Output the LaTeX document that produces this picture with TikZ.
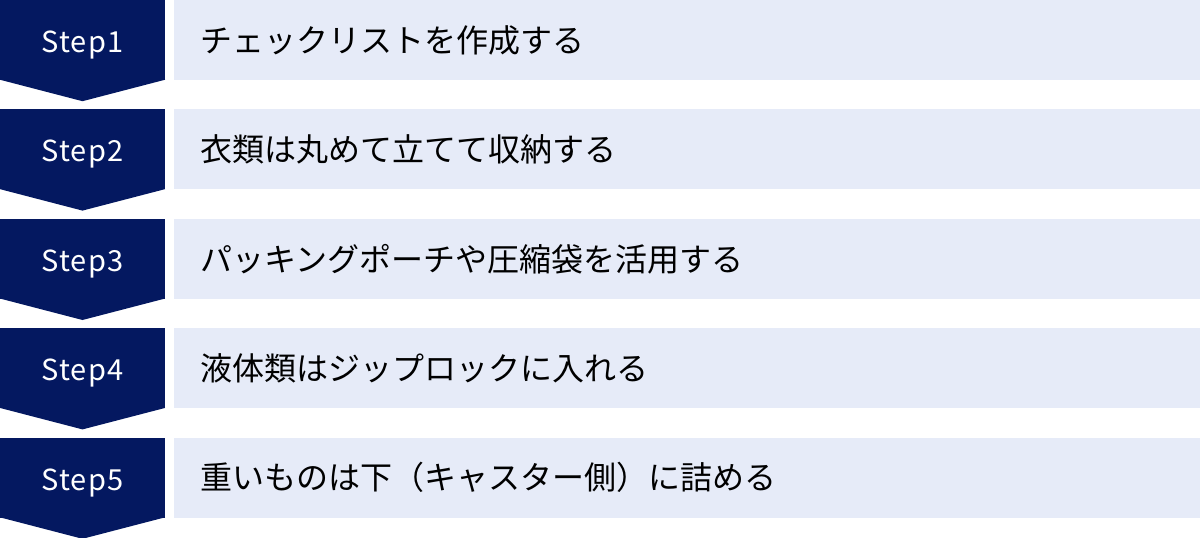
\documentclass[tikz,border=0pt]{standalone}
\usepackage{fontspec}
\setmainfont{Noto Sans CJK JP}
\newfontfamily\stepfont[LetterSpace=4]{Noto Sans CJK JP}
\usetikzlibrary{positioning}
\definecolor{stepnavy}{RGB}{4,24,96}
\definecolor{rowblue}{RGB}{230,235,248}

\begin{document}
\begin{tikzpicture}[
    node distance=29pt and 9pt,
    stepbox/.style={fill=stepnavy, text=white, minimum width=165pt, minimum height=80pt, inner sep=0pt, text height=25pt, text depth=0pt, font=\stepfont\fontsize{29}{34}\selectfont},
    rowbox/.style={fill=rowblue, text=black, minimum height=80pt, inner xsep=26pt, inner ysep=0pt, text width=974pt, align=left, font=\fontsize{32}{38}\selectfont},
]
\useasboundingbox (0,0) rectangle (1200pt,-538pt);
\node[stepbox] (S1) at (82.5pt,-40pt) {Step1};
\node[stepbox, below=of S1] (S2) {Step2};
\node[stepbox, below=of S2] (S3) {Step3};
\node[stepbox, below=of S3] (S4) {Step4};
\node[stepbox, below=of S4] (S5) {Step5};
\node[rowbox, right=of S1] (T1) {チェックリストを作成する};
\node[rowbox, right=of S2] (T2) {衣類は丸めて立てて収納する};
\node[rowbox, right=of S3] (T3) {パッキングポーチや圧縮袋を活用する};
\node[rowbox, right=of S4] (T4) {液体類はジップロックに入れる};
\node[rowbox, right=of S5] (T5) {重いものは下（キャスター側）に詰める};
% arrow tips under each step
\foreach \s in {S1,S2,S3,S4,S5}
  \fill[stepnavy] ([yshift=0.5pt]\s.south west) -- ([yshift=-21pt]\s.south) -- ([yshift=0.5pt]\s.south east) -- cycle;
\end{tikzpicture}
\end{document}
